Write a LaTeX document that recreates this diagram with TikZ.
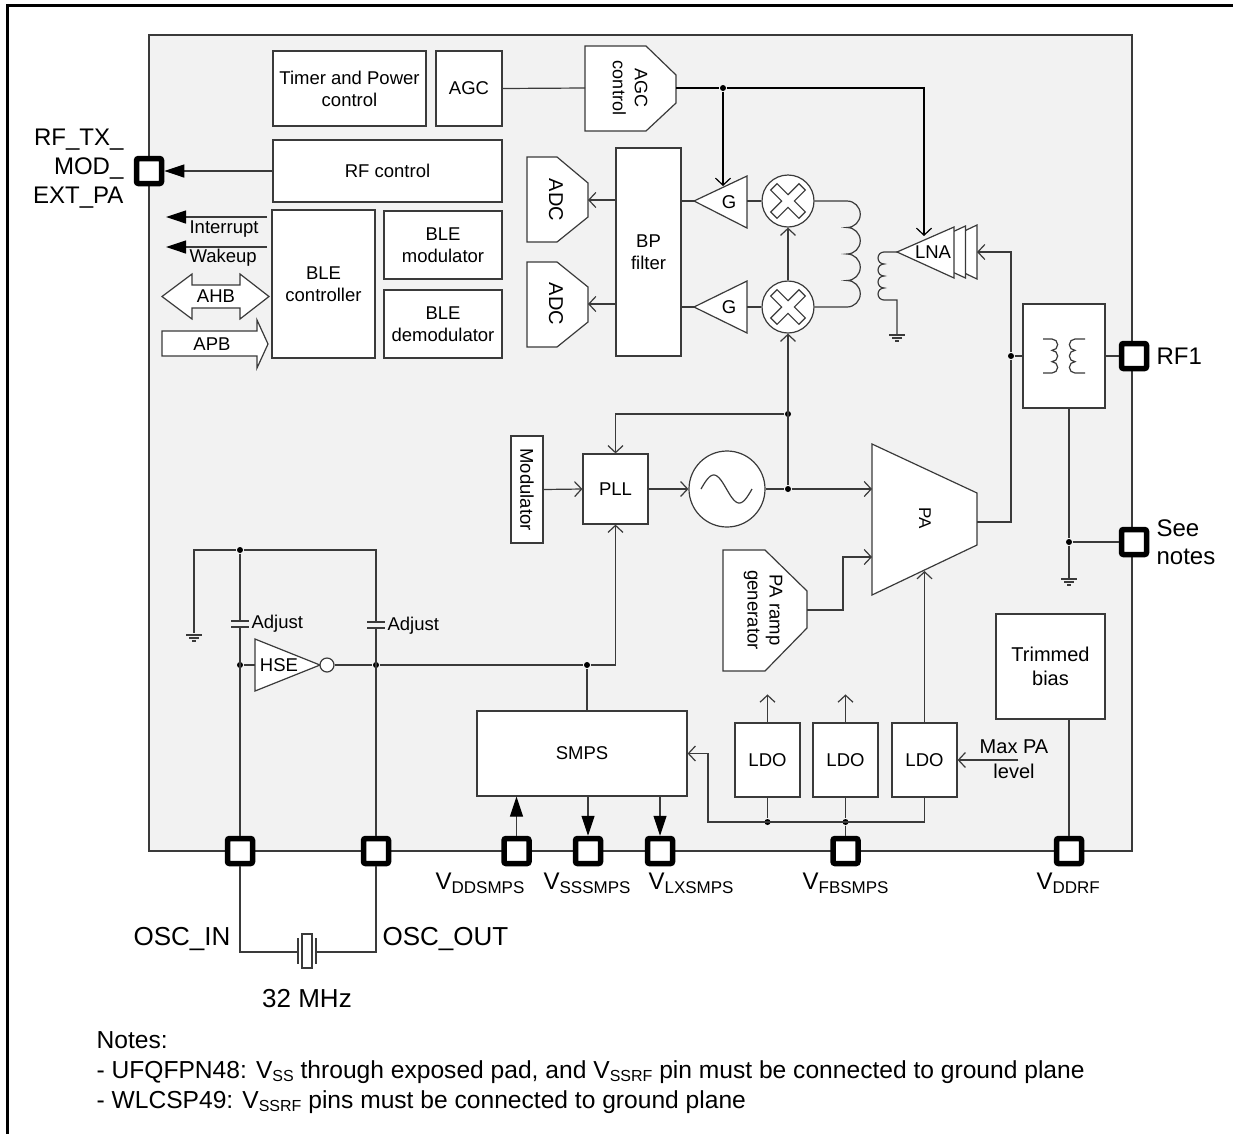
\documentclass[tikz,border=0pt]{standalone}
\usepackage{fontspec}
\setmainfont{Liberation Sans}
\usetikzlibrary{arrows.meta}
\definecolor{lc}{HTML}{3A3A3A}
\definecolor{chipgray}{HTML}{F2F2F2}
\newcommand{\fsz}[2]{\fontsize{#1}{#2}\selectfont}
\newcommand{\Vs}[3]{V\raisebox{-#3pt}{\fsz{#2}{#2}#1}}
\tikzset{
  gnd/.pic={\draw[lc,line width=1.2pt] (-8,0)--(8,0) (-5,3)--(5,3) (-2,6)--(2,6);},
  mixx/.pic={\draw[lc,line width=1.2pt,rotate=45] (4.5,20)--(4.5,4.5)--(20,4.5)--(20,-4.5)--(4.5,-4.5)--(4.5,-20)--(-4.5,-20)--(-4.5,-4.5)--(-20,-4.5)--(-20,4.5)--(-4.5,4.5)--(-4.5,20)--cycle;}
}
\begin{document}
\begin{tikzpicture}[x=1pt,y=-1pt,line width=1.2pt,
  blk/.style={draw=lc,fill=white,inner sep=0pt,align=center,font=\fsz{18.5}{22}},
  padsq/.style={draw=black,fill=white,line width=5.5pt,rounded corners=2pt,minimum size=25pt,inner sep=0pt},
  wire/.style={draw=lc},
  oarr/.style={-{Straight Barb[length=7pt,width=15pt]}},
  farr/.style={-{Triangle[length=20pt,width=13pt,fill=black,color=black]}},
  jdot/.style={circle,fill=black,draw=none,inner sep=0pt,minimum size=6pt},
  lbl/.style={inner sep=0pt,font=\fsz{18.5}{22}},
  plbl/.style={inner sep=0pt,font=\fsz{24}{29}},
  shp/.style={draw=lc,fill=white}]
\useasboundingbox (0,0) rectangle (1233,1133);
% outer frame
\draw[line width=3pt,black] (7,1140) -- (7,5.5) -- (1240,5.5);
% chip
\path[fill=chipgray,draw=lc] (149,35) rectangle (1132,851);

% digital blocks
\node[blk,minimum width=153pt,minimum height=75pt] (timer) at (349.5,88.5) {Timer and Power\\control};
\node[blk,minimum width=66pt,minimum height=75pt] (agc) at (469,88.5) {AGC};
\node[blk,minimum width=229pt,minimum height=62pt] (rfc) at (387.5,171) {RF control};
\node[blk,minimum width=103pt,minimum height=148pt] (blec) at (323.5,284) {BLE\\controller};
\node[blk,minimum width=118pt,minimum height=68pt] (blem) at (443,245) {BLE\\modulator};
\node[blk,minimum width=118pt,minimum height=68pt] (bled) at (443,324) {BLE\\demodulator};
\node[blk,minimum width=65pt,minimum height=208pt] (bp) at (648.5,252) {BP\\filter};
\node[blk,rotate=-90,minimum width=107pt,minimum height=32pt] (mod) at (527,489.5) {Modulator};
\node[blk,minimum width=65pt,minimum height=70pt] (pll) at (615.5,489) {PLL};
\node[blk,minimum width=210pt,minimum height=85pt] (smps) at (582,753.5) {SMPS};
\node[blk,minimum width=65pt,minimum height=74pt] (ldo1) at (767.5,760) {LDO};
\node[blk,minimum width=65pt,minimum height=74pt] (ldo2) at (845.5,760) {LDO};
\node[blk,minimum width=65pt,minimum height=74pt] (ldo3) at (924.5,760) {LDO};
\node[blk,minimum width=109pt,minimum height=105pt,font=\fsz{20}{24}] (trim) at (1050.5,666.5) {Trimmed\\bias};
\node[blk,minimum width=82pt,minimum height=104pt] (balun) at (1064,356) {};

% AGC control
\draw[shp] (585,46) -- (646,46) -- (676,75) -- (676,103) -- (646,131) -- (585,131) -- cycle;
\node[lbl,rotate=-90,align=center,font=\fsz{18}{22}] (agcc) at (630,88) {AGC\\control};
\coordinate (agcc-in) at (585,88);
\coordinate (agcc-out) at (676,88);
% ADCs
\draw[shp] (527,157)--(557,157)--(588,183)--(588,217)--(557,242)--(527,242)--cycle;
\node[lbl,rotate=-90,font=\fsz{20}{24}] (adc1) at (556,200) {ADC};
\coordinate (adc1-in) at (588,200);
\draw[shp] (527,262)--(557,262)--(588,287)--(588,322)--(557,347)--(527,347)--cycle;
\node[lbl,rotate=-90,font=\fsz{20}{24}] (adc2) at (556,304) {ADC};
\coordinate (adc2-in) at (588,304);
% gain stages
\draw[shp] (747,176)--(747,228)--(694,201)--cycle;
\node[lbl] (g1) at (729,202) {G};
\coordinate (g1-tip) at (694,201); \coordinate (g1-base) at (747,201);
\draw[shp] (747,281)--(747,333)--(694,307)--cycle;
\node[lbl] (g2) at (729,307) {G};
\coordinate (g2-tip) at (694,307); \coordinate (g2-base) at (747,307);
% mixers
\node[circle,draw=lc,fill=white,minimum size=52pt,inner sep=0pt] (mx1) at (788,201) {};
\pic at (788,201) {mixx};
\node[circle,draw=lc,fill=white,minimum size=52pt,inner sep=0pt] (mx2) at (788,307) {};
\pic at (788,307) {mixx};
% LNA
\draw[shp] (977,225)--(977,279)--(920,252)--cycle;
\draw[shp] (965.5,226)--(965.5,278)--(908.5,252)--cycle;
\draw[shp] (954,227)--(954,278)--(897,252)--cycle;
\node[lbl] (lna) at (933,252) {LNA};
\coordinate (lna-tip) at (897,252);
\coordinate (lna-back) at (977,252);
% oscillator
\node[circle,draw=lc,fill=white,minimum size=76pt,inner sep=0pt] (osc) at (727,489) {};
\draw[lc] plot[domain=0:360,samples=49,smooth] ({701+\x/360*51},{489-14*sin(\x)});
% PA
\draw[shp] (872,444)--(977,493)--(977,545)--(872,595)--cycle;
\node[lbl,rotate=-90,font=\fsz{17}{20}] (pa) at (925,518) {PA};
\coordinate (pa-in1) at (872,489); \coordinate (pa-in2) at (872,557);
\coordinate (pa-out) at (977,522); \coordinate (pa-bot) at (924.5,571);
% PA ramp generator
\draw[shp] (723,550)--(765,550)--(807,591)--(807,628)--(765,671)--(723,671)--cycle;
\node[lbl,rotate=-90,align=center] (ramp) at (763,610) {PA ramp\\generator};
\coordinate (ramp-out) at (807,610);
% HSE
\draw[shp] (255,639)--(255,691)--(320,665)--cycle;
\node[lbl] (hse) at (279,665) {HSE};
\node[circle,draw=lc,fill=white,minimum size=14pt,inner sep=0pt] (bub) at (327,665) {};

% pads
\node[padsq] (rftx) at (149,171) {};
\node[padsq] (rf1) at (1134,356) {};
\node[padsq] (seen) at (1134,542) {};
\node[padsq] (oscin) at (240,851) {};
\node[padsq] (oscout) at (376,851) {};
\node[padsq] (vdds) at (516.5,851) {};
\node[padsq] (vsss) at (588,851) {};
\node[padsq] (vlxs) at (660,851) {};
\node[padsq] (vfbs) at (845.5,851) {};
\node[padsq] (vddrf) at (1069,851) {};

% junction dots
\node[jdot] (d1) at (723,88) {};
\node[jdot] (d2) at (788,414) {};
\node[jdot] (d3) at (788,489) {};
\node[jdot] (d5) at (1011,356) {};
\node[jdot] (d6) at (1069,542) {};
\node[jdot] (d7) at (587,665) {};
\node[jdot] (d8) at (240,665) {};
\node[jdot] (d9) at (376,665) {};
\node[jdot] (d10) at (240,550) {};
\node[jdot] (d11) at (767.5,822) {};
\node[jdot] (d12) at (845.5,822) {};

% RF control and BLE
\draw[farr,lc] (rfc.west) -- (rftx.east);
\coordinate (irqs) at (267,217); \coordinate (irqe) at (166,217);
\coordinate (wks) at (267,247); \coordinate (wke) at (166,247);
\draw[farr,lc] (irqs) -- (irqe);
\draw[farr,lc] (wks) -- (wke);
\node[lbl,anchor=west] at (189,229) {Interrupt};
\node[lbl,anchor=west] at (189,258) {Wakeup};
\draw[shp] (162,296.5)--(192,274)--(192,285)--(240,285)--(240,274)--(269,296.5)--(240,319)--(240,308)--(192,308)--(192,319)--cycle;
\node[lbl] (ahb) at (216,296.5) {AHB};
\draw[shp] (162,331)--(257,331)--(257,320)--(268,344)--(257,368)--(257,356)--(162,356)--cycle;
\node[lbl] (apb) at (212,344) {APB};

% AGC path
\draw[wire] (agc.east) -- (agcc-in);
\draw[black] (agcc-out) -- (d1);
\draw[black,oarr] (d1) -- (924,88) -- (924,236);
\draw[black,oarr] (d1) -- (723,186);
% receive chain
\draw[wire,oarr] (bp.west |- adc1-in) -- (adc1-in);
\draw[wire,oarr] (bp.west |- adc2-in) -- (adc2-in);
\draw[wire] (bp.east |- g1-tip) -- (g1-tip);
\draw[wire] (bp.east |- g2-tip) -- (g2-tip);
\draw[wire] (g1-base) -- (mx1.west);
\draw[wire] (g2-base) -- (mx2.west);
\draw[wire,oarr] (mx2.north) -- (mx1.south);
\draw[wire,oarr] (d3) -- (mx2.south);
% coils
\draw[wire] (mx1.east) -- (847,201)
  arc[start angle=-90,end angle=90,radius=13.25]
  arc[start angle=-90,end angle=90,radius=13.25]
  arc[start angle=-90,end angle=90,radius=13.25]
  arc[start angle=-90,end angle=90,radius=13.25] -- (mx2.east);
\draw[wire] (lna-tip) -- (884,252)
  arc[start angle=-90,end angle=-270,radius=6]
  arc[start angle=-90,end angle=-270,radius=6]
  arc[start angle=-90,end angle=-270,radius=6]
  arc[start angle=-90,end angle=-270,radius=6] -- (897,300) -- (897,334);
\pic at (897,335) {gnd};
% LNA input / PA output / balun
\draw[wire,oarr] (d5) -- (1011,252) -- (lna-back);
\draw[wire] (d5) -- (1011,522) -- (pa-out);
\draw[wire] (d5) -- (balun.west);
\draw[wire] (balun.east) -- (rf1.west);
\draw[wire] (1043,339) -- (1052,339)
  arc[start angle=-90,end angle=90,radius=5.67]
  arc[start angle=-90,end angle=90,radius=5.67]
  arc[start angle=-90,end angle=90,radius=5.67] -- (1043,373);
\draw[wire] (1085,339) -- (1075,339)
  arc[start angle=-90,end angle=-270,radius=5.67]
  arc[start angle=-90,end angle=-270,radius=5.67]
  arc[start angle=-90,end angle=-270,radius=5.67] -- (1085,373);
\draw[wire] (balun.south -| vddrf) -- (d6) -- (1069,578);
\pic at (1069,579) {gnd};
\draw[wire] (d6) -- (seen.west);
% synthesizer
\draw[wire,oarr] (d2) -| (pll.north);
\draw[wire,oarr] (mod.north) -- (pll.west);
\draw[wire,oarr] (pll.east) -- (osc.west);
\draw[wire] (osc.east) -- (d3);
\draw[wire,oarr] (d3) -- (pa-in1);
\draw[wire,oarr] (ramp-out) -- (843,610) -- (843,557) -- (pa-in2);
\draw[wire,oarr] (ldo3.north) -- (pa-bot);
% power
\draw[wire,oarr] (ldo1.north) -- ++(0,-28);
\draw[wire,oarr] (ldo2.north) -- ++(0,-28);
\draw[wire] (ldo1.south) -- (d11);
\draw[wire] (ldo2.south) -- (d12) -- (vfbs.north);
\draw[wire,oarr] (ldo3.south) |- (708,822) |- (smps.east);
\coordinate (maxs) at (1018,760);
\draw[wire,oarr] (maxs) -- (ldo3.east);
\node[lbl,align=center,font=\fsz{20}{25}] (maxpa) at (1014,759) {Max PA\\level};
\draw[wire] (trim.south -| vddrf) -- (vddrf.north);
\draw[farr,lc] (vdds.north) -- (smps.south -| vdds);
\draw[farr,lc] (smps.south -| vsss) -- (vsss.north);
\draw[farr,lc] (smps.south -| vlxs) -- (vlxs.north);
\draw[wire] (smps.north -| d7) -- (d7);
\draw[wire,oarr] (d7) -| (pll.south);
% HSE / crystal
\draw[wire] (bub.east) -- (d9) -- (d7);
\draw[wire] (d8) -- (255,665);
\draw[wire] (194,633) -- (194,550) -- (d10) -- (376,550) -- (376,622);
\draw[wire] (d10) -- (240,621);
\draw[wire] (240,627) -- (oscin.north);
\draw[wire] (376,628) -- (oscout.north);
\draw[wire] (231,621) -- (249,621) (231,627) -- (249,627);
\draw[wire] (367,622) -- (385,622) (367,628) -- (385,628);
\pic at (194,635) {gnd};
\node[lbl,anchor=west] at (251,624) {Adjust};
\node[lbl,anchor=west] at (387,626) {Adjust};
\node[draw=lc,fill=white,minimum width=10pt,minimum height=34pt,inner sep=0pt] (xtal) at (307,951) {};
\draw[wire] (oscin.south) |- (298,952);
\draw[wire] (oscout.south) |- (316,952);
\draw[wire] (298,938) -- (298,964) (316,938) -- (316,964);

% pad labels
\node[plbl,anchor=east,align=right] at (124,169) {RF\_TX\_\\MOD\_\\EXT\_PA};
\node[plbl,anchor=west] at (1156,356) {RF1};
\node[plbl,anchor=west,align=left,font=\fsz{24}{28}] at (1156,542) {See\\notes};
\node[plbl,anchor=base east,font=\fsz{26}{30}] at (231,945) {OSC\_IN};
\node[plbl,anchor=base west,font=\fsz{26}{30}] at (382,945) {OSC\_OUT};
\node[plbl,anchor=base,font=\fsz{26}{30}] at (307,1007) {32 MHz};
\node[plbl,anchor=base west] at (435,889) {\Vs{DDSMPS}{17}{4.3}};
\node[plbl,anchor=base west] at (543,889) {\Vs{SSSMPS}{17}{4.3}};
\node[plbl,anchor=base west] at (648,889) {\Vs{LXSMPS}{17}{4.3}};
\node[plbl,anchor=base west] at (802,889) {\Vs{FBSMPS}{17}{4.3}};
\node[plbl,anchor=base west] at (1036,889) {\Vs{DDRF}{17}{4.3}};
% notes
\node[anchor=base west,inner sep=0pt,font=\fsz{24.6}{28}] at (96,1048) {Notes:};
\node[anchor=base west,inner sep=0pt,font=\fsz{24.6}{28}] at (96,1078) {- UFQFPN48: \Vs{SS}{16}{3.5} through exposed pad, and \Vs{SSRF}{16}{3.5} pin must be connected to ground plane};
\node[anchor=base west,inner sep=0pt,font=\fsz{24.6}{28}] at (96,1108) {- WLCSP49: \Vs{SSRF}{16}{3.5} pins must be connected to ground plane};
\end{tikzpicture}
\end{document}
